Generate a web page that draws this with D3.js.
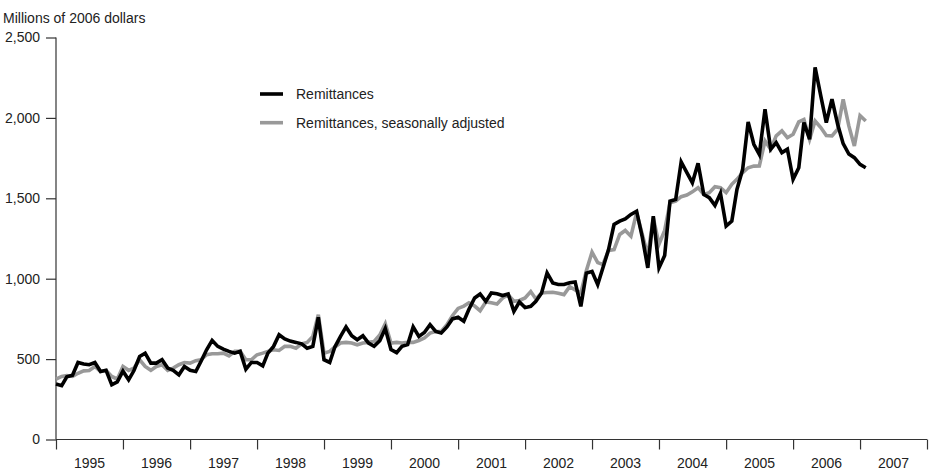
<!DOCTYPE html>
<html>
<head>
<meta charset="utf-8">
<script src="https://cdn.jsdelivr.net/npm/d3@7"></script>
<style>
  html, body { margin: 0; padding: 0; background: #fff; }
  svg { display: block; }
  text { font-family: "Liberation Sans", Arial, Helvetica, sans-serif; fill: #222; }
</style>
</head>
<body>
<svg id="chart" width="930" height="471"></svg>
<script>
// ---- data (monthly, Jan 1995 – Feb 2007, millions of 2006 dollars) ----
const startYear = 1995;
const startMonth = 0; // January
const remittances = [
  345, 335, 390, 400, 479, 470, 465, 479, 423, 430, 340, 358,
  425, 371, 429, 516, 537, 475, 475, 496, 444, 430, 402, 454,
  430, 423, 485, 558, 616, 579, 562, 548, 537, 548, 437, 479,
  479, 458, 537, 579, 651, 625, 612, 604, 595, 568, 579, 760,
  496, 479, 575, 641, 700, 645, 620, 645, 600, 580, 615, 690,
  560, 540, 579, 590, 700, 641, 665, 714, 672, 662, 700, 750,
  760, 735, 810, 880, 905, 859, 911, 906, 895, 905, 797, 855,
  820, 828, 859, 911, 1036, 974, 964, 964, 975, 980, 828, 1035,
  1045, 963, 1067, 1181, 1337, 1358, 1372, 1400, 1420, 1264, 1067, 1389,
  1067, 1144, 1482, 1493, 1726, 1660, 1597, 1718, 1524, 1504, 1456, 1531,
  1327, 1358, 1555, 1680, 1975, 1836, 1773, 2054, 1805, 1846, 1784, 1805,
  1618, 1690, 1971, 1867, 2314, 2137, 1971, 2116, 1960, 1840, 1775, 1753,
  1711, 1690
];
const remittancesSA = [
  375, 392, 398, 392, 412, 427, 429, 454, 423, 430, 392, 375,
  454, 430, 444, 496, 454, 430, 454, 465, 430, 444, 465, 479,
  475, 490, 496, 527, 533, 533, 537, 520, 548, 548, 496, 496,
  527, 537, 548, 558, 554, 579, 579, 568, 595, 604, 641, 776,
  537, 548, 575, 600, 604, 600, 589, 600, 604, 610, 650, 720,
  600, 604, 600, 604, 604, 616, 631, 662, 672, 672, 714, 770,
  815, 830, 850, 830, 801, 855, 850, 843, 880, 900, 860, 865,
  880, 920, 874, 911, 914, 916, 910, 901, 950, 930, 911, 1050,
  1165, 1100, 1088, 1175, 1181, 1275, 1300, 1264, 1410, 1280, 1145, 1379,
  1215, 1300, 1472, 1483, 1510, 1520, 1540, 1566, 1524, 1535, 1572, 1566,
  1535, 1587, 1618, 1660, 1690, 1700, 1701, 1857, 1805, 1888, 1919, 1877,
  1898, 1975, 1990, 1867, 1981, 1940, 1890, 1888, 1930, 2115, 1950, 1825,
  2015, 1981
];
const yearLabels = ["1995","1996","1997","1998","1999","2000","2001","2002","2003","2004","2005","2006","2007"];
const yTicks = [0, 500, 1000, 1500, 2000, 2500];
const seriesNames = ["Remittances", "Remittances, seasonally adjusted"];
const yTitle = "Millions of 2006 dollars";

(function () {
  const svg = d3.select("#chart");
  const mLeft = 56, mRight = 927, mTop = 37.5, mBottom = 439.5;

  const dates = remittances.map((_, i) => new Date(startYear, startMonth + i, 1));
  const x = d3.scaleTime()
    .domain([new Date(+yearLabels[0], 0, 1), new Date(+yearLabels[yearLabels.length - 1] + 1, 0, 1)])
    .range([mLeft, mRight]);
  const y = d3.scaleLinear().domain([0, 2500]).range([mBottom, mTop]);

  const axisColor = "#333";

  // y axis
  const yAxis = d3.axisLeft(y).tickValues(yTicks).tickSize(10).tickPadding(6)
    .tickFormat(d3.format(","));
  const gy = svg.append("g").attr("transform", `translate(${mLeft},0)`).call(yAxis);
  gy.select(".domain").attr("stroke", axisColor).attr("stroke-width", 1.2).attr("d", `M0,${mTop}V${mBottom}`);
  gy.selectAll(".tick line").attr("stroke", axisColor).attr("stroke-width", 1.2);
  gy.selectAll(".tick text").attr("font-size", 14).attr("fill", "#222")
    .style("font-family", '"Liberation Sans", Arial, sans-serif');

  // x axis: ticks at year boundaries, labels centred in each year
  const yearStarts = d3.range(+yearLabels[0], +yearLabels[yearLabels.length - 1] + 2).map(yr => new Date(yr, 0, 1));
  const xAxis = d3.axisBottom(x).tickValues(yearStarts).tickSize(10).tickFormat("");
  const gx = svg.append("g").attr("transform", `translate(0,${mBottom})`).call(xAxis);
  gx.select(".domain").attr("stroke", axisColor).attr("stroke-width", 1.2).attr("d", `M${mLeft},0H${mRight}`);
  gx.selectAll(".tick line").attr("stroke", axisColor).attr("stroke-width", 1.2);
  gx.selectAll(".yearlabel").data(yearLabels).enter().append("text")
    .attr("class", "yearlabel")
    .attr("x", d => (x(new Date(+d, 0, 1)) + x(new Date(+d + 1, 0, 1))) / 2)
    .attr("y", 28)
    .attr("text-anchor", "middle")
    .attr("font-size", 14)
    .attr("fill", "#222")
    .text(d => d);

  // title
  svg.append("text").attr("x", 3).attr("y", 23).attr("font-size", 14).text(yTitle);

  // lines
  const line = d3.line().x((d, i) => x(dates[i])).y(d => y(d));
  svg.append("path").datum(remittancesSA)
    .attr("fill", "none").attr("stroke", "#999").attr("stroke-width", 3.6)
    .attr("stroke-linejoin", "miter").attr("d", line);
  svg.append("path").datum(remittances)
    .attr("fill", "none").attr("stroke", "#000").attr("stroke-width", 3.6)
    .attr("stroke-linejoin", "miter").attr("d", line);

  // legend
  const legendColors = ["#000", "#999"];
  const lg = svg.append("g");
  seriesNames.forEach((name, i) => {
    const ly = 94 + i * 28.7;
    lg.append("line").attr("x1", 260).attr("x2", 283).attr("y1", ly).attr("y2", ly)
      .attr("stroke", legendColors[i]).attr("stroke-width", 3.6);
    lg.append("text").attr("x", 296).attr("y", ly + 5).attr("font-size", 14).text(name);
  });
})();
</script>
</body>
</html>
